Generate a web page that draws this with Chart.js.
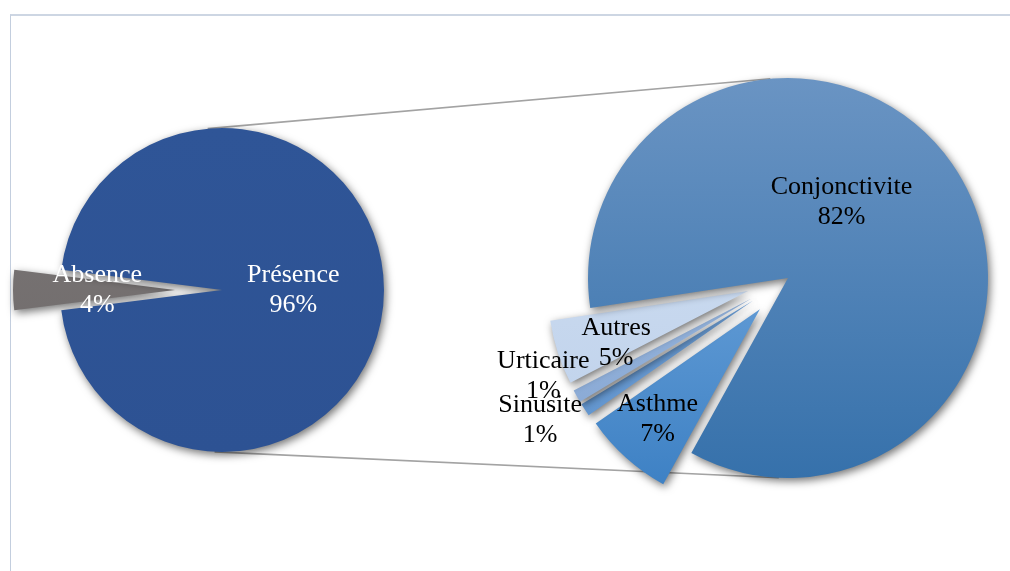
<!DOCTYPE html>
<html>
<head>
<meta charset="utf-8">
<script src="https://cdn.jsdelivr.net/npm/chart.js@4.4.1/dist/chart.umd.min.js"></script>
<style>
    body { margin: 0; background: #fff; width: 1010px; height: 571px; overflow: hidden; position: relative; }
    #frame { position: absolute; left: 10px; top: 14px; width: 1100px; height: 700px;
             border-left: 1px solid #c3cede; border-top: 2px solid #cdd6e3; }
    canvas { position: absolute; }
    #links { left: 0; top: 0; }
    #mainPie { left: 0; top: 0; }
    #subPie { left: 366px; top: 0; }
</style>
</head>
<body>
<div id="frame"></div>
<canvas id="links" width="1010" height="571"></canvas>
<canvas id="mainPie" width="444" height="580"></canvas>
<canvas id="subPie" width="844" height="556"></canvas>
<script>
// main pie: allergy present or not
const mainLabels = ['Absence', 'Présence'];
const mainValues = [4, 96];

// breakdown of "Présence" (share of the whole)
const subLabels = ['Asthme', 'Sinusite', 'Urticaire', 'Autres', 'Conjonctivite'];
const subValues = [7, 1, 1, 5, 82];

const FONT = '26px "Liberation Serif", "Times New Roman", serif';

// draws exploded slices, soft shadows and the two-line labels
const pieDecor = {
    id: 'pieDecor',
    beforeDatasetsDraw(chart, args, opts) {
        const arcs = chart.getDatasetMeta(0).data;
        arcs.forEach((arc, i) => {
            const d = opts.explode[i] || 0;
            const mid = (arc.startAngle + arc.endAngle) / 2;
            arc.$shift = { dx: Math.cos(mid) * d, dy: Math.sin(mid) * d };
            arc.x += arc.$shift.dx;
            arc.y += arc.$shift.dy;
        });
        const ctx = chart.ctx;
        ctx.save();
        ctx.shadowColor = 'rgba(0,0,0,0.55)';
        ctx.shadowBlur = 9;
        ctx.shadowOffsetX = 2;
        ctx.shadowOffsetY = 3;
    },
    afterDatasetsDraw(chart, args, opts) {
        const ctx = chart.ctx;
        ctx.restore();
        const arcs = chart.getDatasetMeta(0).data;
        ctx.save();
        ctx.font = FONT;
        ctx.textAlign = 'center';
        ctx.textBaseline = 'middle';
        ctx.fillStyle = opts.textColor;
        arcs.forEach((arc, i) => {
            const mid = (arc.startAngle + arc.endAngle) / 2 + (opts.labelTurn[i] || 0) * Math.PI / 180;
            const r = arc.outerRadius * opts.labelDist[i];
            const x = arc.x + Math.cos(mid) * r;
            const y = arc.y + Math.sin(mid) * r;
            const value = chart.data.datasets[0].data[i];
            ctx.fillText(chart.data.labels[i], x, y - 15);
            ctx.fillText(value + '%', x, y + 15);
        });
        ctx.restore();
        arcs.forEach(arc => {
            arc.x -= arc.$shift.dx;
            arc.y -= arc.$shift.dy;
        });
    }
};

function vGradient(chart, radius, top, bottom) {
    const area = chart.chartArea;
    const cy = (area.top + area.bottom) / 2;
    const g = chart.ctx.createLinearGradient(0, cy - radius, 0, cy + radius);
    g.addColorStop(0, top);
    g.addColorStop(1, bottom);
    return g;
}

const mainColors = [['#7a7676', '#6f6a6a'], ['#2f5597', '#2d5293']];
const subColors = [
    ['#86b6e6', '#3f82c5'],
    ['#7aa8dc', '#5f93cd'],
    ['#a0bde2', '#87a7d3'],
    ['#d4e2f4', '#bdd0ea'],
    ['#6a94c3', '#3671ab']
];

function pieConfig(labels, values, colors, radius, rotation, decor) {
    return {
        type: 'pie',
        data: {
            labels: labels,
            datasets: [{
                data: values,
                backgroundColor: function (c) {
                    if (!c.chart.chartArea) return colors[c.dataIndex][0];
                    const pair = colors[c.dataIndex];
                    return vGradient(c.chart, radius, pair[0], pair[1]);
                },
                borderWidth: 0
            }]
        },
        options: {
            responsive: false,
            animation: false,
            events: [],
            radius: radius,
            rotation: rotation,
            layout: { padding: 0 },
            plugins: {
                legend: { display: false },
                tooltip: { enabled: false },
                pieDecor: decor
            }
        },
        plugins: [pieDecor]
    };
}

const mainChart = new Chart(document.getElementById('mainPie'), pieConfig(
    mainLabels, mainValues, mainColors, 162, 262.8,
    { explode: [47, 0], labelDist: [0.48, 0.44], labelTurn: [0, 0], textColor: '#ffffff' }
));

const subChart = new Chart(document.getElementById('subPie'), pieConfig(
    subLabels, subValues, subColors, 200, 208.9,
    {
        explode: [42, 42, 42, 42, 0],
        labelDist: [0.75, 1.22, 1.11, 0.71, 0.465],
        labelTurn: [1, 3.6, 8.8, -3.8, -20],
        textColor: '#000000'
    }
));

// connector lines: outer tangents between the two pies
function drawLinks() {
    const a = mainChart.getDatasetMeta(0).data[1];
    const b = subChart.getDatasetMeta(0).data[4];
    const ca = mainChart.canvas, cb = subChart.canvas;
    const x1 = a.x + ca.offsetLeft, y1 = a.y + ca.offsetTop, r1 = a.outerRadius;
    const x2 = b.x + cb.offsetLeft, y2 = b.y + cb.offsetTop, r2 = b.outerRadius;
    const dist = Math.hypot(x2 - x1, y2 - y1);
    const base = Math.atan2(y2 - y1, x2 - x1);
    const phi = Math.acos((r1 - r2) / dist);

    const ctx = document.getElementById('links').getContext('2d');
    ctx.strokeStyle = '#a3a3a3';
    ctx.lineWidth = 1.6;
    [base - phi, base + phi].forEach(t => {
        ctx.beginPath();
        ctx.moveTo(x1 + Math.cos(t) * r1, y1 + Math.sin(t) * r1);
        ctx.lineTo(x2 + Math.cos(t) * r2, y2 + Math.sin(t) * r2);
        ctx.stroke();
    });
}
drawLinks();
</script>
</body>
</html>
